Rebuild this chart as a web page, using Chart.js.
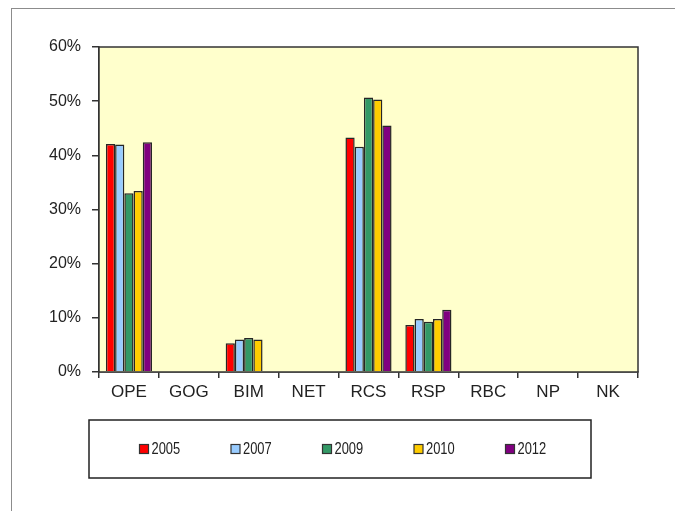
<!DOCTYPE html>
<html>
<head>
<meta charset="utf-8">
<script src="https://cdn.jsdelivr.net/npm/chart.js@4.4.1/dist/chart.umd.min.js"></script>
<style>
  html,body{margin:0;padding:0;background:#fff;overflow:hidden;}
  #frame{position:absolute;left:11px;top:8px;width:700px;height:600px;border:1px solid #8c8c8c;}
  #wrap{position:absolute;left:0;top:0;width:675px;height:511px;}
</style>
</head>
<body>
<div id="frame"></div>
<div id="wrap"><canvas id="grafica" width="675" height="511"></canvas></div>
<script>
// ---- datos ----
const categorias = ['OPE','GOG','BIM','NET','RCS','RSP','RBC','NP','NK'];
const anios = ['2005','2007','2009','2010','2012'];
const colores = ['#FF0000','#99CCFF','#339966','#FFCC00','#800080'];

const v2005 = [42.1, null, 5.3, null, 43.3,  8.7, null, null, null];
const v2007 = [42.0, null, 6.0, null, 41.6,  9.8, null, null, null];
const v2009 = [33.0, null, 6.3, null, 50.7,  9.3, null, null, null];
const v2010 = [33.4, null, 6.0, null, 50.3,  9.8, null, null, null];
const v2012 = [42.4, null, null, null, 45.5, 11.5, null, null, null];

const yTicks = [0,10,20,30,40,50,60];

const series = [v2005, v2007, v2009, v2010, v2012];
const TXT = '#222';
const FUENTE = '"Liberation Sans", Arial, sans-serif';

// fondo amarillo + marco del area
const fondoPlot = {
  id:'fondoPlot',
  beforeDatasetsDraw(chart){
    const {ctx, chartArea:a} = chart;
    ctx.save();
    ctx.fillStyle = '#FFFFCC';
    ctx.fillRect(a.left, a.top, a.right-a.left, a.bottom-a.top);
    ctx.restore();
  },
  afterDraw(chart){
    const {ctx, chartArea:a} = chart;
    ctx.save();
    ctx.strokeStyle = '#333';
    ctx.lineWidth = 1.5;
    ctx.strokeRect(a.left, a.top, a.right-a.left, a.bottom-a.top);
    ctx.restore();
  }
};

// leyenda en caja
const leyendaCaja = {
  id:'leyendaCaja',
  afterDraw(chart){
    const ctx = chart.ctx;
    const bx=89, by=420, bw=502, bh=58;
    ctx.save();
    ctx.fillStyle='#fff';
    ctx.fillRect(bx,by,bw,bh);
    ctx.strokeStyle='#222';
    ctx.lineWidth=1.5;
    ctx.strokeRect(bx,by,bw,bh);
    ctx.font = '17px ' + FUENTE;
    ctx.textBaseline='middle';
    chart.data.datasets.forEach((ds,i)=>{
      const x = 139.5 + i*91.5, y = 449;
      ctx.fillStyle = ds.backgroundColor;
      ctx.fillRect(x, y-4.5, 9, 9);
      ctx.strokeStyle='#333';
      ctx.lineWidth=1.2;
      ctx.strokeRect(x, y-4.5, 9, 9);
      // texto algo condensado como el original
      ctx.save();
      ctx.translate(x+12, y+0.5);
      ctx.scale(0.76, 1);
      ctx.fillStyle=TXT;
      ctx.fillText(ds.label, 0, 0);
      ctx.restore();
    });
    ctx.restore();
  }
};

new Chart(document.getElementById('grafica'), {
  type:'bar',
  data:{
    labels:categorias,
    datasets:anios.map((a,i)=>({
      label:a,
      data:series[i],
      backgroundColor:colores[i],
      borderColor:'#262626',
      borderWidth:1.5,
      borderSkipped:'bottom',
      categoryPercentage:0.77,
      barPercentage:1.0
    }))
  },
  options:{
    responsive:false,
    animation:false,
    devicePixelRatio:1,
    layout:{padding:{left:0,top:47,right:37,bottom:99}},
    plugins:{legend:{display:false},tooltip:{enabled:false}},
    scales:{
      x:{
        grid:{drawOnChartArea:false,drawTicks:true,tickLength:6,color:'#333',lineWidth:1.5},
        border:{display:true,color:'#333',width:1.5},
        ticks:{color:TXT,padding:4,font:{family:FUENTE,size:17},maxRotation:0,autoSkip:false},
        afterFit(s){ s.height = 40; }
      },
      y:{
        min:0,max:60,
        afterBuildTicks(s){ s.ticks = yTicks.map(v=>({value:v})); },
        grid:{drawOnChartArea:false,drawTicks:true,tickLength:7,color:'#333',lineWidth:1.5},
        border:{display:true,color:'#333',width:1.5},
        ticks:{color:TXT,padding:11,font:{family:FUENTE,size:16},callback:v=>v+'%'},
        afterFit(s){ s.width = 99; }
      }
    }
  },
  plugins:[fondoPlot, leyendaCaja]
});
</script>
</body>
</html>
